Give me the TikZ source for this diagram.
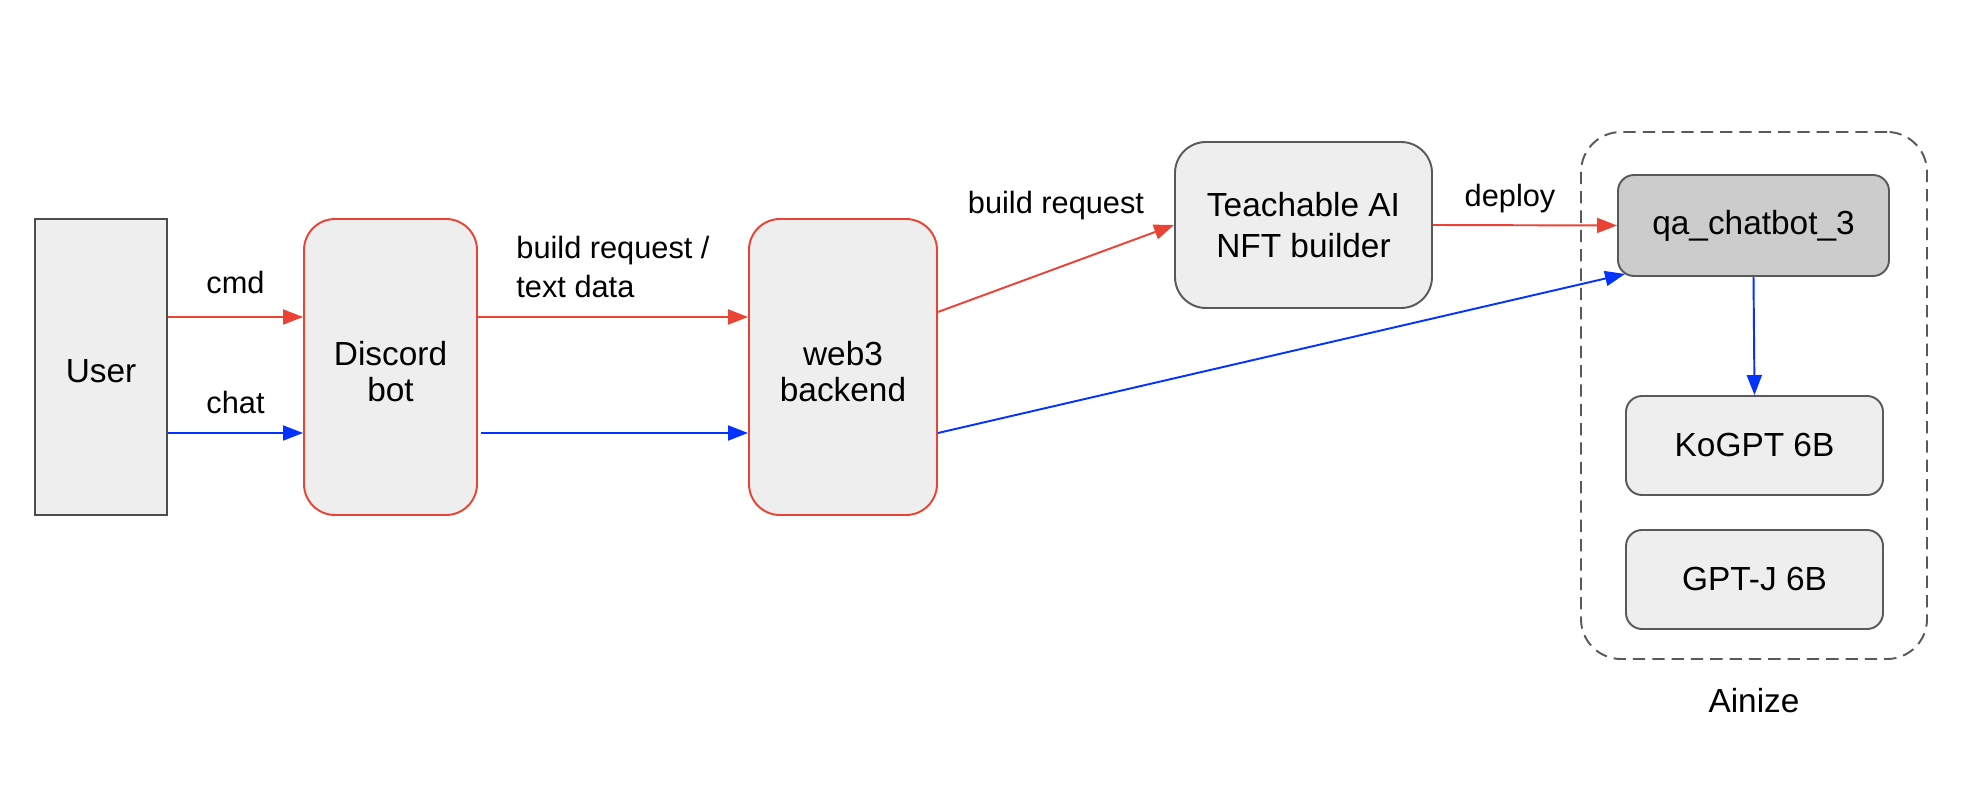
\documentclass[tikz,border=0pt]{standalone}
\usepackage{fontspec}
\setmainfont{Liberation Sans}
\usetikzlibrary{arrows.meta}
\definecolor{redline}{HTML}{EA4335}
\definecolor{blueline}{HTML}{0433FF}
\definecolor{boxgray}{HTML}{EEEEEE}
\definecolor{chatgray}{HTML}{CCCCCC}
\definecolor{bordergray}{HTML}{595959}
\tikzset{
    box/.style={draw=bordergray, fill=boxgray, line width=1.1pt, align=center,
        font=\fontsize{19}{20.5}\selectfont},
    tallbox/.style={box, minimum height=5.92cm,
        label={[align=center, font=\fontsize{19}{20.5}\selectfont, yshift=-0.09cm]center:#1}},
    redbox/.style={tallbox=#1, draw=redline, rounded corners=0.62cm},
    modelbox/.style={box, rounded corners=0.32cm, minimum width=5.14cm, minimum height=1.98cm},
    redarrow/.style={draw=redline, line width=1.1pt, -{Triangle[length=0.4cm,width=0.3cm]}},
    bluearrow/.style={draw=blueline, line width=1.1pt, -{Triangle[length=0.4cm,width=0.3cm]}},
    lbl/.style={font=\fontsize{17.5}{22}\selectfont, inner sep=0pt}
}
\begin{document}
\begin{tikzpicture}
        \useasboundingbox 
            (0,0) rectangle (39.28,-16.2);
        % left part
        \node[tallbox={User}, draw=bordergray!85!black, minimum width=2.64cm] 
            (user) at (2.02,-7.34) {};
        \node[redbox={Discord\\bot}, minimum width=3.46cm] 
            (discord) at (7.81,-7.34) {};
        \node[redbox={web3\\backend}, minimum width=3.76cm] 
            (web3) at (16.86,-7.34) {};
        \node[box, font=\fontsize{19}{23}\selectfont, rounded corners=0.62cm, minimum width=5.14cm, minimum height=3.32cm] 
            (builder) at (26.07,-4.5) {Teachable AI\\NFT builder};
        % Ainize
        \node[draw=bordergray, dash pattern=on 7pt off 4pt, line width=1.1pt, rounded corners=0.8cm, 
            minimum width=6.92cm, minimum height=10.54cm] 
            (ainize) at (35.08,-7.91) {};
        \node[box, fill=chatgray, rounded corners=0.32cm, minimum width=5.42cm, minimum height=2.02cm] 
            (chatbot) at (35.07,-4.51) {qa\_chatbot\_3};
        \node[modelbox] 
            (kogpt) at (35.09,-8.91) {KoGPT 6B};
        \node[modelbox] 
            (gptj) at (35.09,-11.59) {GPT-J 6B};
        \node[font=\fontsize{19}{22}\selectfont] 
            (ainizelbl) at (35.08,-14.02) {Ainize};
        % arrows
        \draw 
            [redarrow] ([yshift=1cm]user.east) -- ([yshift=1cm]discord.west) 
            node[lbl, midway, above=0.45cm]{cmd};
        \draw 
            [bluearrow] ([yshift=-1.32cm]user.east) -- ([yshift=-1.32cm]discord.west) 
            node[lbl, midway, above=0.36cm]{chat};
        \draw 
            [redarrow] ([yshift=1cm]discord.east) -- ([yshift=1cm]web3.west) 
            node[lbl, midway, above=0.37cm, align=left]{build request /\\text data};
        \draw 
            [bluearrow, shorten <=0.06cm] ([yshift=-1.32cm]discord.east) -- ([yshift=-1.32cm]web3.west);
        \draw 
            [redarrow] ([yshift=1.1cm]web3.east) -- (builder.west) 
            node[lbl, midway, above=0.95cm]{build request};
        \draw 
            [redarrow] (builder.east) -- (chatbot.west) 
            node[lbl, midway, above=0.23cm, xshift=-0.3cm]{deploy};
        \draw 
            [bluearrow] ([yshift=-1.32cm]web3.east) -- ([xshift=0.16cm,yshift=0.06cm]chatbot.south west);
        \draw 
            [bluearrow] (chatbot.south) -- (kogpt.north);
    \end{tikzpicture}
\end{document}
